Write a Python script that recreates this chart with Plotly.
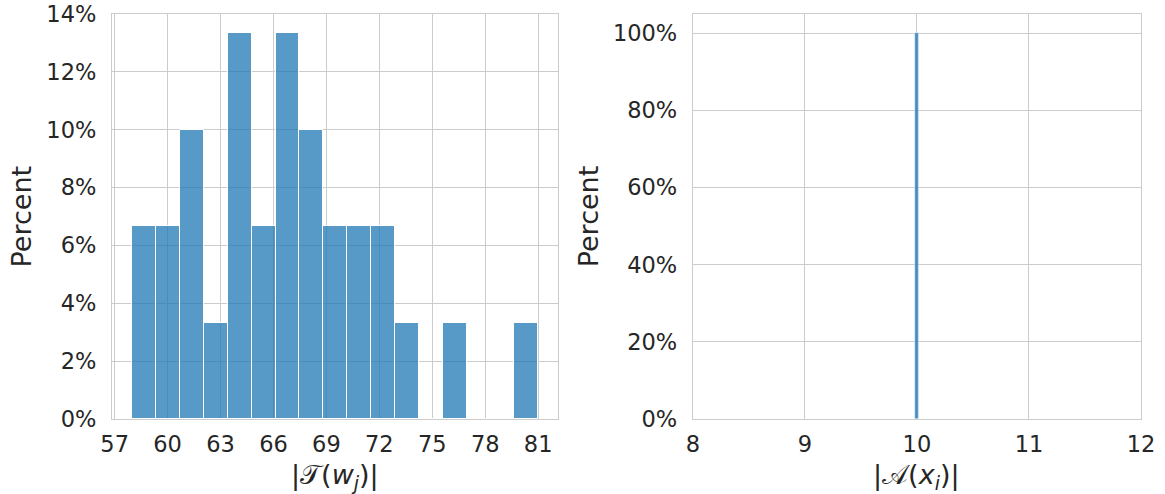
import plotly.graph_objects as go

# ---- data ----
left_min = 58.0
left_max = 81.0
left_nbins = 17
left_counts = [2, 2, 3, 1, 4, 2, 4, 3, 2, 2, 2, 1, 0, 1, 0, 0, 1]
left_total = 30

right_values = [10]
right_percent = [100.0]
right_binwidth = 0.035

left_xticks = [57, 60, 63, 66, 69, 72, 75, 78, 81]
left_yticks = [0, 2, 4, 6, 8, 10, 12, 14]
right_xticks = [8, 9, 10, 11, 12]
right_yticks = [0, 20, 40, 60, 80, 100]

left_xlabel = "|𝒯(<i>w</i><sub><i>j</i></sub>)|"
right_xlabel = "|𝒜(<i>x</i><sub><i>i</i></sub>)|"
ylabel = "Percent"

# ---- derived ----
bw = (left_max - left_min) / left_nbins
left_centers = [left_min + bw * (i + 0.5) for i in range(left_nbins)]
left_percent = [c / left_total * 100 for c in left_counts]

BAR = "rgba(31,119,180,0.75)"
GRID = "#cccccc"
TXT = "#262626"
FONT = "DejaVu Sans"

fig = go.Figure()
fig.add_trace(go.Bar(x=left_centers, y=left_percent, width=[bw] * left_nbins,
                     marker=dict(color=BAR, line=dict(color="white", width=1)),
                     xaxis="x", yaxis="y", showlegend=False, hoverinfo="skip"))
fig.add_trace(go.Bar(x=right_values, y=right_percent, width=[right_binwidth] * len(right_values),
                     marker=dict(color=BAR, line=dict(color="white", width=0.5)),
                     xaxis="x2", yaxis="y2", showlegend=False, hoverinfo="skip"))

W, H = 1165.0, 494.0
L, R, T, B = 111.7, 1141.0, 14.0, 418.7
PW, PH = R - L, B - T
lx_end = 558.3
rx_start = 692.7

common = dict(showline=True, linecolor=GRID, linewidth=1.25, mirror=True,
              showgrid=True, gridcolor=GRID, gridwidth=1.1, zeroline=False,
              tickfont=dict(size=22.5, color=TXT, family=FONT),
              ticks="outside", tickcolor="rgba(0,0,0,0)", automargin=False)

fig.update_layout(
    width=1165, height=494,
    margin=dict(l=L, r=W - R, t=T, b=H - B, pad=0),
    paper_bgcolor="white", plot_bgcolor="white",
    font=dict(family=FONT, color=TXT),
    bargap=0,
    xaxis=dict(domain=[0, (lx_end - L) / PW],
               range=[left_min - 0.05 * (left_max - left_min), left_max + 0.05 * (left_max - left_min)],
               tickvals=left_xticks, ticklen=5, anchor="y", **common),
    yaxis=dict(domain=[0, 1], range=[0, max(left_percent) * 1.05], tickvals=left_yticks,
               ticktext=[f"{v}%" for v in left_yticks], ticklen=10, anchor="x", **common),
    xaxis2=dict(domain=[(rx_start - L) / PW, 1], range=[8, 12], tickvals=right_xticks,
                ticklen=5, anchor="y2", **common),
    yaxis2=dict(domain=[0, 1], range=[0, 105], tickvals=right_yticks,
                ticktext=[f"{v}%" for v in right_yticks], ticklen=10, anchor="x2", **common),
)


def px(xp):
    return (xp - L) / PW


def py(yp):
    return (B - yp) / PH


tfont = dict(size=27, color=TXT, family=FONT)
ann = [
    dict(text=ylabel, x=px(21), y=py(216), textangle=-90),
    dict(text=ylabel, x=px(588), y=py(216), textangle=-90),
    dict(text=left_xlabel, x=px((L + lx_end) / 2), y=py(476), textangle=0),
    dict(text=right_xlabel, x=px((rx_start + R) / 2), y=py(476), textangle=0),
]
for a in ann:
    fig.add_annotation(xref="paper", yref="paper", xanchor="center", yanchor="middle",
                       showarrow=False, font=tfont, **a)

fig.write_html("out.html", config={"displayModeBar": False},
               post_script="document.body.style.margin='0';document.body.style.overflow='hidden';")
